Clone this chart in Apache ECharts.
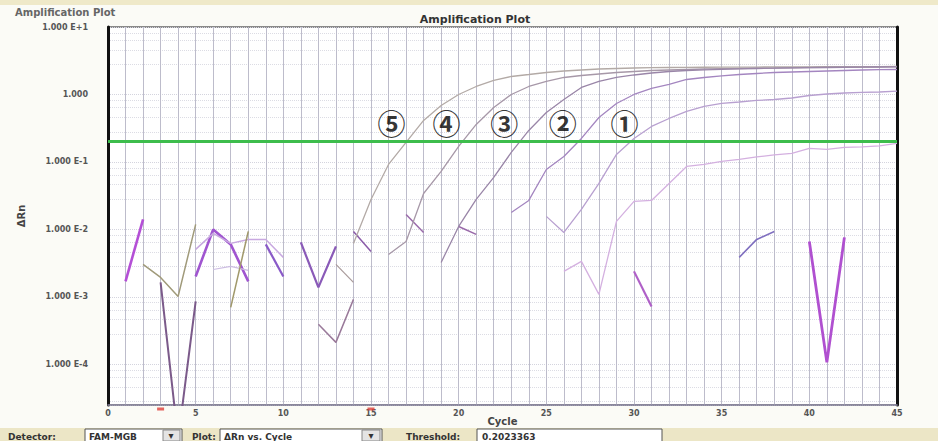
<!DOCTYPE html>
<html>
<head>
<meta charset="utf-8">
<script src="https://cdn.jsdelivr.net/npm/echarts@6/dist/echarts.min.js"></script>
<style>
  html, body { margin: 0; padding: 0; background: #fbfbf6; }
  #chart { width: 938px; height: 441px; }
</style>
</head>
<body>
<div id="chart"></div>
<script>
// ΔRn per cycle for each well; every array starts at the cycle given in its *Start constant
const std1Start = 25;
const std1 = [0.0156, 0.00903, 0.01977, 0.0480, 0.1292, 0.2230, 0.3357, 0.441, 0.560, 0.664,
  0.736, 0.774, 0.815, 0.843, 0.887, 0.966, 1.017, 1.052, 1.071, 1.089, 1.119];

const std2Start = 23;
const std2 = [0.01786, 0.0269, 0.0774, 0.1206, 0.2230, 0.456, 0.736, 1.0, 1.227, 1.406,
  1.668, 1.786, 1.880, 1.978, 2.047, 2.118, 2.154, 2.191, 2.229, 2.268, 2.307, 2.331, 2.346];

const std3Start = 19;
const std3 = [0.00324, 0.01107, 0.0278, 0.0589, 0.1383, 0.293, 0.541, 0.843, 1.270, 1.558,
  1.786, 1.945, 2.082, 2.191, 2.268, 2.322, 2.362, 2.395, 2.428, 2.45, 2.48, 2.495, 2.512,
  2.53, 2.54, 2.555, 2.56];

const std4Start = 16;
const std4 = [0.00426, 0.00664, 0.0341, 0.0723, 0.1698, 0.3594, 0.642, 1.0, 1.314, 1.558,
  1.786, 1.912, 2.012, 2.118, 2.191, 2.268, 2.307, 2.346, 2.387, 2.41, 2.428, 2.45, 2.47,
  2.49, 2.512, 2.53, 2.547, 2.555, 2.57, 2.58];

const std5Start = 14;
const std5 = [0.00621, 0.0278, 0.0918, 0.1945, 0.412, 0.687, 1.0, 1.314, 1.612, 1.848,
  1.978, 2.118, 2.229, 2.307, 2.387, 2.428, 2.470, 2.495, 2.512, 2.52, 2.53, 2.54, 2.55,
  2.55, 2.56, 2.57, 2.57, 2.58, 2.58, 2.59, 2.59, 2.60];

const lowStart = 26;
const low = [0.00239, 0.00336, 0.00109, 0.01314, 0.0260, 0.0269, 0.0480, 0.0858, 0.0918,
  0.1017, 0.1089, 0.1187, 0.127, 0.1336, 0.1585, 0.1532, 0.164, 0.1668, 0.1726, 0.188];

// Baseline noise: [cycle, ΔRn] runs that break wherever ΔRn drops to zero or below
const noiseRuns = [
  [[1, 0.0017], [2, 0.01406]],
  [[2, 0.00303], [3, 0.001945], [4, 0.001017], [5, 0.01186]],
  [[3, 0.00164], [4, 0.00000774], [5, 0.000857]],
  [[5, 0.00201], [6, 0.01], [7, 0.006], [8, 0.0017]],
  [[5, 0.00506], [6, 0.00873], [7, 0.00621], [8, 0.00711], [9, 0.00711], [10, 0.00385]],
  [[6, 0.00255], [7, 0.00283], [8, 0.00247]],
  [[7, 0.000699], [8, 0.00934]],
  [[9, 0.006], [10, 0.00201]],
  [[11, 0.00642], [12, 0.001383], [13, 0.0056]],
  [[13, 0.00303], [14, 0.00164]],
  [[12, 0.000392], [13, 0.000212], [14, 0.000918]],
  [[14, 0.00934], [15, 0.00472]],
  [[17, 0.01668], [18, 0.00903]],
  [[20, 0.01107], [21, 0.00843]],
  [[30, 0.00239], [31, 0.000723]],
  [[36, 0.00385], [37, 0.00711], [38, 0.00934]],
  [[40, 0.00664], [41, 0.000107], [42, 0.00761]]
];
const noiseColors = ['#b44fd6', '#a09a7a', '#7b5a8a', '#a055d0', '#c8a8e0', '#cdbde2', '#a0986a',
  '#8a5ac8', '#8a5ab8', '#a89a9a', '#9a7a9a', '#8a5aa8', '#9a6aaa', '#9a6aaa', '#b060c8',
  '#8070c0', '#b050d0'];
const noiseWidths = [2.6, 1.5, 2, 2.6, 1.5, 1.2, 1.5, 2.2, 2.2, 1.2, 1.5, 1.5, 1.5, 1.5, 2.2, 1.6, 2.8];

const threshold = 0.2023363;
const baselineCycles = [3, 15];

// Dilution tags sitting beside each curve where it crosses the threshold
const tagNames = ['⑤', '④', '③', '②', '①'];
const tagCycles = [16.17, 19.3, 22.6, 25.94, 29.46];
const tagLevel = 0.372;

const yDecades = [-4, -3, -2, -1, 0, 1];
const yTickLabels = ['1.000 E-4', '1.000 E-3', '1.000 E-2', '1.000 E-1', '1.000', '1.000 E+1'];

const labelFont = 'DejaVu Sans';

function toPairs(start, values) {
  return values.map((v, i) => [start + i, v]);
}

function yLabel(v) {
  const e = Math.log10(v);
  const i = yDecades.findIndex(d => Math.abs(d - e) < 0.01);
  return i < 0 ? '' : yTickLabels[i];
}

const curves = [
  { name: 'Std 5', data: toPairs(std5Start, std5), color: '#b3aaa6' },
  { name: 'Std 4', data: toPairs(std4Start, std4), color: '#a798a8' },
  { name: 'Std 3', data: toPairs(std3Start, std3), color: '#9a86a8' },
  { name: 'Std 2', data: toPairs(std2Start, std2), color: '#a486c0' },
  { name: 'Std 1', data: toPairs(std1Start, std1), color: '#b8a0d0' },
  { name: 'Sample', data: toPairs(lowStart, low), color: '#d4b0e0' }
];

const series = [];

noiseRuns.forEach((run, i) => {
  series.push({
    type: 'line', name: 'noise' + i, data: run, showSymbol: false, silent: true,
    lineStyle: { color: noiseColors[i], width: noiseWidths[i] }, z: 3
  });
});

curves.forEach((c, i) => {
  const s = {
    type: 'line', name: c.name, data: c.data, showSymbol: false, silent: true,
    lineStyle: { color: c.color, width: 1.3 }, z: 4
  };
  if (i === 0) {
    s.markLine = {
      silent: true, symbol: 'none', label: { show: false },
      lineStyle: { color: '#3dbd4c', width: 3, type: 'solid' },
      data: [{ yAxis: threshold }]
    };
  }
  series.push(s);
});

series.push({
  type: 'scatter', name: 'tags', silent: true, symbolSize: 1,
  itemStyle: { color: 'rgba(0,0,0,0)' },
  data: tagNames.map((t, i) => [tagCycles[i], tagLevel, t]),
  label: {
    show: true, position: 'inside', formatter: p => p.data[2],
    fontSize: 28, fontWeight: 'bold', color: '#000', fontFamily: 'Noto Sans CJK JP'
  },
  z: 6
});

series.push({
  type: 'scatter', name: 'baseline', silent: true, symbol: 'rect', symbolSize: [7, 3],
  symbolOffset: [0, 4], itemStyle: { color: '#e0403a' },
  data: baselineCycles.map(c => [c, 2.5e-5]), z: 6
});

const ui = '#333';
const uiFont = 'bold 9px "DejaVu Sans"';
const graphic = [
  { type: 'rect', shape: { x: 0, y: 0, width: 938, height: 5 }, style: { fill: '#efe9c9' }, z: -10 },
  { type: 'text', x: 15, y: 7, style: { text: 'Amplification Plot', font: 'bold 10px "DejaVu Sans"', fill: '#666' } },
  { type: 'text', x: 475, y: 14, style: { text: 'Amplification Plot', font: 'bold 11px "DejaVu Sans"', fill: '#333', textAlign: 'center' } },
  { type: 'rect', shape: { x: 0, y: 428, width: 938, height: 13 }, style: { fill: '#ece6c6' }, z: -10 },
  { type: 'text', x: 8, y: 432, style: { text: 'Detector:', font: uiFont, fill: ui } },
  { type: 'rect', shape: { x: 85, y: 429, width: 97, height: 14 }, style: { fill: '#fff', stroke: '#555', lineWidth: 1 } },
  { type: 'text', x: 89, y: 432, style: { text: 'FAM-MGB', font: uiFont, fill: ui } },
  { type: 'rect', shape: { x: 163, y: 430, width: 17, height: 11 }, style: { fill: '#e4e4e4', stroke: '#888', lineWidth: 1 } },
  { type: 'text', x: 171, y: 430, style: { text: '▾', font: '10px "DejaVu Sans"', fill: ui, textAlign: 'center' } },
  { type: 'text', x: 192, y: 432, style: { text: 'Plot:', font: uiFont, fill: ui } },
  { type: 'rect', shape: { x: 220, y: 429, width: 162, height: 14 }, style: { fill: '#fff', stroke: '#555', lineWidth: 1 } },
  { type: 'text', x: 224, y: 432, style: { text: 'ΔRn vs. Cycle', font: uiFont, fill: ui } },
  { type: 'rect', shape: { x: 362, y: 430, width: 18, height: 11 }, style: { fill: '#e4e4e4', stroke: '#888', lineWidth: 1 } },
  { type: 'text', x: 371, y: 430, style: { text: '▾', font: '10px "DejaVu Sans"', fill: ui, textAlign: 'center' } },
  { type: 'text', x: 406, y: 432, style: { text: 'Threshold:', font: uiFont, fill: ui } },
  { type: 'rect', shape: { x: 477, y: 429, width: 185, height: 14 }, style: { fill: '#fff', stroke: '#555', lineWidth: 1 } },
  { type: 'text', x: 482, y: 432, style: { text: String(threshold), font: uiFont, fill: ui } }
];

const chart = echarts.init(document.getElementById('chart'), null, { renderer: 'svg' });
chart.setOption({
  animation: false,
  backgroundColor: '#fbfbf6',
  graphic: graphic,
  grid: {
    left: 108, right: 41, top: 27, bottom: 36,
    show: true, backgroundColor: '#ffffff', borderColor: '#666', borderWidth: 1.5
  },
  xAxis: {
    type: 'value', min: 0, max: 45, interval: 5,
    name: 'Cycle', nameLocation: 'middle', nameGap: 11, nameMoveOverlap: false,
    nameTextStyle: { fontFamily: labelFont, fontWeight: 'bold', fontSize: 10, color: '#444' },
    axisLine: { show: true, lineStyle: { color: '#8a86a0', width: 1.5 } },
    axisTick: { show: false },
    axisLabel: { fontFamily: labelFont, fontWeight: 'bold', fontSize: 8, color: '#555', margin: 4 },
    splitLine: { show: true, lineStyle: { color: '#bdbccb', width: 1 } },
    minorTick: { show: false, splitNumber: 5 },
    minorSplitLine: { show: true, lineStyle: { color: '#bdbccb', width: 1 } }
  },
  yAxis: [{
    type: 'log', logBase: 10, min: 2.5e-5, max: 10,
    name: 'ΔRn', nameLocation: 'middle', nameGap: 82, nameRotate: 90, nameMoveOverlap: false,
    nameTextStyle: { fontFamily: labelFont, fontWeight: 'bold', fontSize: 10, color: '#444' },
    axisLine: { show: true, lineStyle: { color: '#111', width: 3 } },
    axisTick: { show: false },
    axisLabel: { formatter: yLabel, fontFamily: labelFont, fontWeight: 'bold', fontSize: 8, color: '#555', margin: 20 },
    splitLine: { show: true, lineStyle: { color: '#d4d4de', width: 1, type: 'dotted' } },
    minorTick: { show: false, splitNumber: 5 },
    minorSplitLine: { show: true, lineStyle: { color: '#dcdce4', width: 1, type: 'dotted' } }
  }, {
    type: 'log', logBase: 10, min: 2.5e-5, max: 10, position: 'right',
    axisLine: { show: true, lineStyle: { color: '#111', width: 3 } },
    axisTick: { show: false }, axisLabel: { show: false }, splitLine: { show: false }
  }],
  series: series
});
</script>
</body>
</html>
